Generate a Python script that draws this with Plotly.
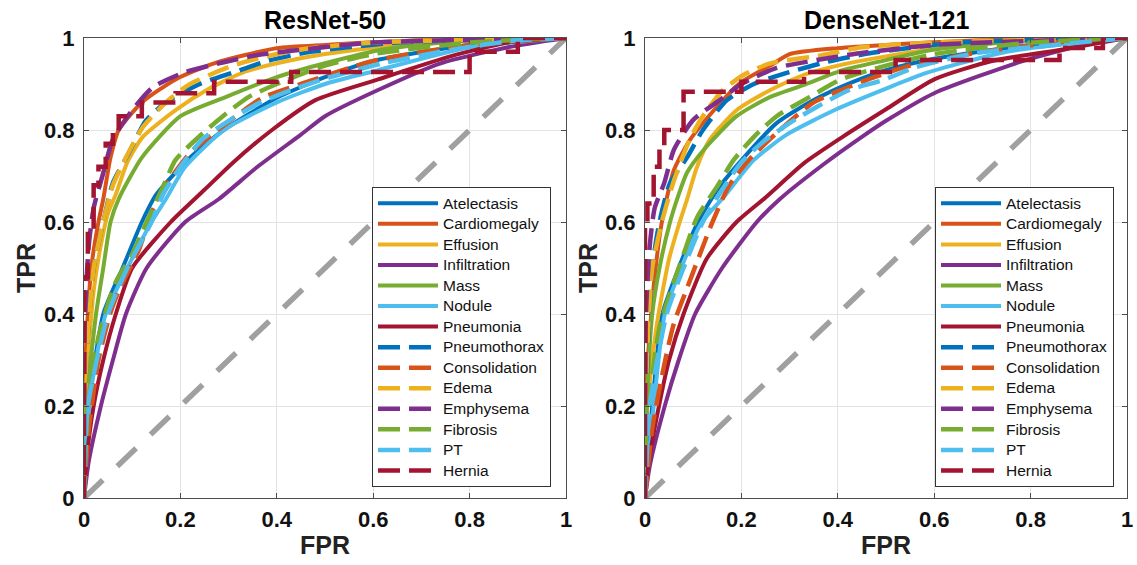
import plotly.graph_objects as go

diseases = ["Atelectasis", "Cardiomegaly", "Effusion", "Infiltration", "Mass", "Nodule",
            "Pneumonia", "Pneumothorax", "Consolidation", "Edema", "Emphysema", "Fibrosis",
            "PT", "Hernia"]
colors = ["#0072BD", "#D95319", "#EDB120", "#7E2F8E", "#77AC30", "#4DBEEE", "#A2142F"]
tick_vals = [0, 0.2, 0.4, 0.6, 0.8, 1]
tick_text = ["0", "0.2", "0.4", "0.6", "0.8", "1"]
panel_titles = ["ResNet-50", "DenseNet-121"]

# ---------------- ResNet-50 ROC curves (FPR, TPR) ----------------
res_atelectasis_fpr = [0, 0.01, 0.04, 0.08, 0.12, 0.15, 0.22, 0.29, 0.4, 0.5, 0.6, 0.8, 1]
res_atelectasis_tpr = [0, 0.2, 0.4, 0.5, 0.6, 0.66, 0.74, 0.8, 0.87, 0.915, 0.95, 0.985, 1]
res_cardiomegaly_fpr = [0, 0.003, 0.015, 0.03, 0.04, 0.055, 0.072, 0.12, 0.19, 0.27, 0.4, 0.5, 0.7, 1]
res_cardiomegaly_tpr = [0, 0.3, 0.5, 0.6, 0.65, 0.74, 0.8, 0.86, 0.91, 0.945, 0.978, 0.985, 0.995, 1]
res_effusion_fpr = [0, 0.005, 0.02, 0.035, 0.05, 0.066, 0.09, 0.122, 0.19, 0.26, 0.33, 0.4, 0.5, 0.7, 1]
res_effusion_tpr = [0, 0.25, 0.45, 0.55, 0.62, 0.66, 0.73, 0.785, 0.843, 0.89, 0.925, 0.945, 0.965, 0.99, 1]
res_infiltration_fpr = [0, 0.01, 0.035, 0.06, 0.087, 0.13, 0.21, 0.28, 0.36, 0.45, 0.5, 0.61, 0.74, 0.88, 1]
res_infiltration_tpr = [0, 0.08, 0.2, 0.3, 0.4, 0.5, 0.6, 0.65, 0.72, 0.79, 0.83, 0.887, 0.945, 0.98, 1]
res_mass_fpr = [0, 0.005, 0.025, 0.04, 0.055, 0.072, 0.12, 0.2, 0.29, 0.4, 0.5, 0.62, 0.8, 1]
res_mass_tpr = [0, 0.2, 0.4, 0.5, 0.6, 0.65, 0.74, 0.83, 0.87, 0.915, 0.945, 0.975, 0.995, 1]
res_nodule_fpr = [0, 0.01, 0.045, 0.09, 0.14, 0.17, 0.21, 0.29, 0.4, 0.5, 0.61, 0.8, 1]
res_nodule_tpr = [0, 0.2, 0.4, 0.5, 0.6, 0.65, 0.72, 0.8, 0.86, 0.9, 0.93, 0.98, 1]
res_pneumonia_fpr = [0, 0.005, 0.02, 0.04, 0.066, 0.1, 0.18, 0.25, 0.31, 0.39, 0.48, 0.61, 0.76, 0.88, 1]
res_pneumonia_tpr = [0, 0.08, 0.2, 0.3, 0.4, 0.5, 0.6, 0.67, 0.73, 0.8, 0.865, 0.91, 0.96, 0.99, 1]
res_pneumothorax_fpr = [0, 0.005, 0.02, 0.04, 0.06, 0.093, 0.128, 0.17, 0.24, 0.31, 0.38, 0.47, 0.65, 1]
res_pneumothorax_tpr = [0, 0.3, 0.5, 0.6, 0.685, 0.75, 0.82, 0.86, 0.9, 0.925, 0.95, 0.97, 0.99, 1]
res_consolidation_fpr = [0, 0.01, 0.03, 0.054, 0.072, 0.114, 0.14, 0.17, 0.22, 0.29, 0.37, 0.45, 0.6, 0.8, 1]
res_consolidation_tpr = [0, 0.15, 0.3, 0.4, 0.45, 0.54, 0.62, 0.68, 0.75, 0.81, 0.87, 0.9, 0.95, 0.985, 1]
res_edema_fpr = [0, 0.005, 0.02, 0.04, 0.06, 0.087, 0.122, 0.17, 0.217, 0.3, 0.37, 0.45, 0.6, 1]
res_edema_tpr = [0, 0.3, 0.5, 0.6, 0.68, 0.74, 0.806, 0.86, 0.898, 0.937, 0.958, 0.975, 0.99, 1]
res_emphysema_fpr = [0, 0.002, 0.01, 0.02, 0.04, 0.06, 0.1, 0.143, 0.205, 0.28, 0.36, 0.445, 0.6, 1]
res_emphysema_tpr = [0, 0.4, 0.55, 0.63, 0.707, 0.78, 0.843, 0.893, 0.924, 0.945, 0.963, 0.974, 0.99, 1]
res_fibrosis_fpr = [0, 0.008, 0.03, 0.066, 0.1, 0.13, 0.164, 0.19, 0.238, 0.288, 0.342, 0.4, 0.5, 0.6, 0.8, 1]
res_fibrosis_tpr = [0, 0.2, 0.35, 0.47, 0.53, 0.6, 0.677, 0.735, 0.785, 0.83, 0.872, 0.9, 0.94, 0.965, 0.99, 1]
res_pt_fpr = [0, 0.008, 0.05, 0.09, 0.14, 0.164, 0.2, 0.246, 0.3, 0.362, 0.43, 0.495, 0.62, 0.76, 0.9, 1]
res_pt_tpr = [0, 0.2, 0.4, 0.5, 0.6, 0.66, 0.72, 0.78, 0.82, 0.858, 0.887, 0.91, 0.945, 0.974, 0.995, 1]
res_hernia_fpr = [0, 0, 0.008, 0.008, 0.02, 0.02, 0.03, 0.03, 0.045, 0.045, 0.06, 0.06, 0.072, 0.072,
                  0.12, 0.12, 0.19, 0.19, 0.27, 0.27, 0.43, 0.43, 0.8, 0.8, 0.9, 0.9, 1]
res_hernia_tpr = [0, 0.48, 0.48, 0.58, 0.58, 0.68, 0.68, 0.72, 0.72, 0.77, 0.77, 0.8, 0.8, 0.83,
                  0.83, 0.86, 0.86, 0.88, 0.88, 0.905, 0.905, 0.926, 0.926, 0.97, 0.97, 1, 1]

# ---------------- DenseNet-121 ROC curves (FPR, TPR) ----------------
den_atelectasis_fpr = [0, 0.015, 0.036, 0.07, 0.11, 0.15, 0.205, 0.273, 0.35, 0.433, 0.5, 0.6, 0.8, 1]
den_atelectasis_tpr = [0, 0.2, 0.4, 0.5, 0.6, 0.67, 0.74, 0.815, 0.865, 0.905, 0.93, 0.955, 0.985, 1]
den_cardiomegaly_fpr = [0, 0.003, 0.013, 0.022, 0.035, 0.06, 0.093, 0.143, 0.197, 0.26, 0.3, 0.4, 0.5, 0.7, 1]
den_cardiomegaly_tpr = [0, 0.25, 0.4, 0.5, 0.6, 0.713, 0.778, 0.843, 0.902, 0.94, 0.965, 0.978, 0.985, 0.995, 1]
den_effusion_fpr = [0, 0.005, 0.025, 0.05, 0.072, 0.087, 0.108, 0.135, 0.19, 0.26, 0.33, 0.4, 0.5, 0.7, 1]
den_effusion_tpr = [0, 0.2, 0.38, 0.52, 0.6, 0.648, 0.72, 0.78, 0.843, 0.887, 0.92, 0.94, 0.96, 0.99, 1]
den_infiltration_fpr = [0, 0.01, 0.041, 0.07, 0.104, 0.16, 0.232, 0.28, 0.37, 0.45, 0.5, 0.6, 0.79, 0.93, 1]
den_infiltration_tpr = [0, 0.07, 0.2, 0.3, 0.4, 0.5, 0.6, 0.65, 0.725, 0.785, 0.82, 0.88, 0.952, 0.99, 1]
den_mass_fpr = [0, 0.004, 0.015, 0.03, 0.052, 0.07, 0.087, 0.122, 0.19, 0.26, 0.33, 0.41, 0.5, 0.6, 0.8, 1]
den_mass_tpr = [0, 0.2, 0.4, 0.5, 0.6, 0.66, 0.707, 0.757, 0.83, 0.872, 0.898, 0.93, 0.952, 0.975, 0.995, 1]
den_nodule_fpr = [0, 0.018, 0.041, 0.075, 0.118, 0.164, 0.226, 0.294, 0.397, 0.5, 0.584, 0.75, 0.9, 1]
den_nodule_tpr = [0, 0.2, 0.4, 0.5, 0.6, 0.655, 0.735, 0.79, 0.845, 0.89, 0.924, 0.97, 0.99, 1]
den_pneumonia_fpr = [0, 0.008, 0.029, 0.05, 0.08, 0.128, 0.19, 0.252, 0.33, 0.41, 0.5, 0.6, 0.72, 0.86, 1]
den_pneumonia_tpr = [0, 0.08, 0.2, 0.3, 0.4, 0.52, 0.6, 0.655, 0.728, 0.785, 0.845, 0.91, 0.95, 0.974, 1]
den_pneumothorax_fpr = [0, 0.005, 0.015, 0.03, 0.052, 0.087, 0.12, 0.17, 0.226, 0.294, 0.377, 0.466, 0.65, 1]
den_pneumothorax_tpr = [0, 0.3, 0.5, 0.6, 0.685, 0.74, 0.8, 0.865, 0.9, 0.924, 0.948, 0.967, 0.99, 1]
den_consolidation_fpr = [0, 0.015, 0.04, 0.06, 0.085, 0.114, 0.14, 0.175, 0.22, 0.28, 0.35, 0.45, 0.55, 0.7, 0.85, 1]
den_consolidation_tpr = [0, 0.15, 0.29, 0.38, 0.45, 0.53, 0.6, 0.68, 0.74, 0.8, 0.86, 0.905, 0.94, 0.97, 0.99, 1]
den_edema_fpr = [0, 0.004, 0.015, 0.035, 0.06, 0.093, 0.12, 0.16, 0.205, 0.26, 0.37, 0.45, 0.6, 1]
den_edema_tpr = [0, 0.3, 0.5, 0.6, 0.69, 0.78, 0.83, 0.885, 0.92, 0.945, 0.963, 0.98, 0.99, 1]
den_emphysema_fpr = [0, 0.002, 0.01, 0.02, 0.04, 0.06, 0.1, 0.155, 0.2, 0.273, 0.356, 0.445, 0.6, 1]
den_emphysema_tpr = [0, 0.4, 0.55, 0.63, 0.685, 0.757, 0.822, 0.865, 0.9, 0.935, 0.952, 0.967, 0.985, 1]
den_fibrosis_fpr = [0, 0.008, 0.03, 0.06, 0.08, 0.108, 0.149, 0.184, 0.226, 0.273, 0.342, 0.404, 0.5, 0.6, 0.8, 1]
den_fibrosis_tpr = [0, 0.2, 0.37, 0.47, 0.53, 0.61, 0.676, 0.735, 0.785, 0.83, 0.872, 0.909, 0.94, 0.965, 0.99, 1]
den_pt_fpr = [0, 0.01, 0.045, 0.08, 0.12, 0.16, 0.2, 0.246, 0.3, 0.356, 0.424, 0.495, 0.563, 0.687, 0.85, 1]
den_pt_tpr = [0, 0.2, 0.4, 0.5, 0.6, 0.67, 0.73, 0.775, 0.815, 0.85, 0.887, 0.909, 0.937, 0.967, 0.985, 1]
den_hernia_fpr = [0, 0, 0.005, 0.005, 0.018, 0.018, 0.03, 0.03, 0.04, 0.04, 0.08, 0.08, 0.2, 0.2,
                  0.33, 0.33, 0.52, 0.52, 0.86, 0.86, 0.95, 0.95, 1]
den_hernia_tpr = [0, 0.6, 0.6, 0.64, 0.64, 0.72, 0.72, 0.76, 0.76, 0.8, 0.8, 0.883, 0.883, 0.905,
                  0.905, 0.926, 0.926, 0.952, 0.952, 0.978, 0.978, 1, 1]

resnet_curves = [
    (res_atelectasis_fpr, res_atelectasis_tpr), (res_cardiomegaly_fpr, res_cardiomegaly_tpr),
    (res_effusion_fpr, res_effusion_tpr), (res_infiltration_fpr, res_infiltration_tpr),
    (res_mass_fpr, res_mass_tpr), (res_nodule_fpr, res_nodule_tpr),
    (res_pneumonia_fpr, res_pneumonia_tpr), (res_pneumothorax_fpr, res_pneumothorax_tpr),
    (res_consolidation_fpr, res_consolidation_tpr), (res_edema_fpr, res_edema_tpr),
    (res_emphysema_fpr, res_emphysema_tpr), (res_fibrosis_fpr, res_fibrosis_tpr),
    (res_pt_fpr, res_pt_tpr), (res_hernia_fpr, res_hernia_tpr)]
densenet_curves = [
    (den_atelectasis_fpr, den_atelectasis_tpr), (den_cardiomegaly_fpr, den_cardiomegaly_tpr),
    (den_effusion_fpr, den_effusion_tpr), (den_infiltration_fpr, den_infiltration_tpr),
    (den_mass_fpr, den_mass_tpr), (den_nodule_fpr, den_nodule_tpr),
    (den_pneumonia_fpr, den_pneumonia_tpr), (den_pneumothorax_fpr, den_pneumothorax_tpr),
    (den_consolidation_fpr, den_consolidation_tpr), (den_edema_fpr, den_edema_tpr),
    (den_emphysema_fpr, den_emphysema_tpr), (den_fibrosis_fpr, den_fibrosis_tpr),
    (den_pt_fpr, den_pt_tpr), (den_hernia_fpr, den_hernia_tpr)]
chance_line = [0, 1]

W, H = 1137, 565
FONT = "Liberation Sans, Arial, Helvetica, sans-serif"

fig = go.Figure()
panels = [(resnet_curves, "x", "y", "legend"), (densenet_curves, "x2", "y2", "legend2")]
for curves, xa, ya, lg in panels:
    fig.add_trace(go.Scatter(x=chance_line, y=chance_line, xaxis=xa, yaxis=ya, mode="lines",
                             line=dict(color="#A0A0A0", width=5.5, dash="26px,20px"),
                             showlegend=False, hoverinfo="skip"))
    for i, (name, (fx, ty)) in enumerate(zip(diseases, curves)):
        dashed = i >= 7
        is_step = name == "Hernia"
        line = dict(color=colors[i % 7], width=4.5 if dashed else 4,
                    dash="22px,9px" if dashed else "solid")
        if is_step:
            line["shape"] = "linear"
        else:
            line["shape"] = "spline"
            line["smoothing"] = 0.6
        fig.add_trace(go.Scatter(x=fx, y=ty, xaxis=xa, yaxis=ya, mode="lines",
                                 name="<span style='font-size:15.5px'>%s</span>" % name,
                                 legend=lg, line=line, hovertemplate=name + "<extra></extra>"))

axis_common = dict(range=[0, 1], tickvals=tick_vals,
                   ticktext=["<b>%s</b>" % t for t in tick_text],
                   showgrid=True, gridcolor="#E3E3E3", gridwidth=1,
                   showline=True, linecolor="#4D4D4D", linewidth=1, mirror="ticks",
                   ticks="inside", ticklen=5, tickcolor="#4D4D4D", zeroline=False,
                   tickfont=dict(family=FONT, size=22, color="#111"),
                   automargin=False, fixedrange=True)

x0L, x1L = 84 / W, 566 / W
x0R, x1R = 645 / W, 1127 / W
yb, yt = 1 - 498 / H, 1 - 38 / H

legend_common = dict(bgcolor="white", bordercolor="#333", borderwidth=1,
                     font=dict(family=FONT, size=13.5, color="#111"), itemwidth=60,
                     tracegroupgap=0, xanchor="left", yanchor="top")

fig.update_layout(
    width=W, height=H, margin=dict(l=0, r=0, t=0, b=0, autoexpand=False),
    paper_bgcolor="white", plot_bgcolor="white", showlegend=True,
    xaxis=dict(domain=[x0L, x1L], anchor="y", ticklabelstandoff=2, **axis_common),
    yaxis=dict(domain=[yb, yt], anchor="x", ticklabelstandoff=4, **axis_common),
    xaxis2=dict(domain=[x0R, x1R], anchor="y2", ticklabelstandoff=2, **axis_common),
    yaxis2=dict(domain=[yb, yt], anchor="x2", ticklabelstandoff=4, **axis_common),
    legend=dict(x=372 / W, y=1 - 187 / H, **legend_common),
    legend2=dict(x=935 / W, y=1 - 187 / H, **legend_common),
)

annots = []
for title, cx in [(panel_titles[0], (84 + 566) / 2 / W), (panel_titles[1], (645 + 1127) / 2 / W)]:
    annots.append(dict(text="<b>%s</b>" % title, x=cx, y=1 - 20 / H, xref="paper", yref="paper",
                       showarrow=False, font=dict(family=FONT, size=25, color="#000"),
                       xanchor="center", yanchor="middle"))
for cx, lx in [((84 + 566) / 2 / W, 26 / W), ((645 + 1127) / 2 / W, 588 / W)]:
    annots.append(dict(text="<b>FPR</b>", x=cx, y=1 - 545 / H, xref="paper", yref="paper",
                       showarrow=False, font=dict(family=FONT, size=25, color="#222"),
                       xanchor="center", yanchor="middle"))
    annots.append(dict(text="<b>TPR</b>", x=lx, y=1 - 268 / H, xref="paper", yref="paper",
                       showarrow=False, textangle=-90, font=dict(family=FONT, size=25, color="#222"),
                       xanchor="center", yanchor="middle"))
fig.update_layout(annotations=annots)

fig.write_html("out.html", config={"displayModeBar": False},
               post_script="document.body.style.margin='0px';")
